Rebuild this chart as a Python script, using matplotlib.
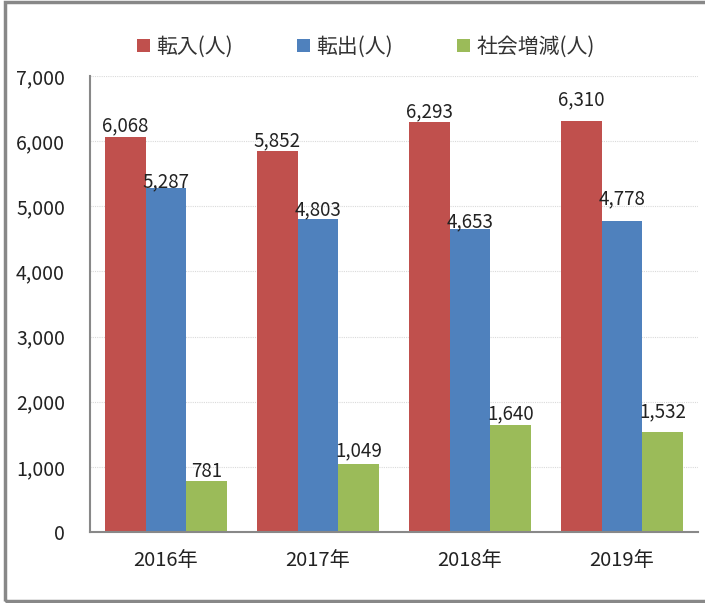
import matplotlib
matplotlib.use("Agg")
import matplotlib.pyplot as plt
import numpy as np
from matplotlib.patches import Rectangle

plt.rcParams['font.family'] = ['Noto Sans CJK JP', 'DejaVu Sans']

categories = ["2016年", "2017年", "2018年", "2019年"]
series_names = ["転入(人)", "転出(人)", "社会増減(人)"]
tennyu = [6068, 5852, 6293, 6310]
tenshutsu = [5287, 4803, 4653, 4778]
shakai = [781, 1049, 1640, 1532]
colors = ["#C0504D", "#4F81BD", "#9BBB59"]

# label baseline offsets above bar top (pixels), as placed in the original
label_offsets_px = [[5, 4, 5, 16],
                    [0, 4, 2, 16],
                    [4, 7, 6, 15]]

fig = plt.figure(figsize=(7.05, 6.03), dpi=100)
ax = fig.add_axes([90/705, 71/603, 608/705, 456/603])

x = np.arange(len(categories))
w = 0.8 / 3
for i, (vals, name, c) in enumerate(zip([tennyu, tenshutsu, shakai], series_names, colors)):
    pos = x + (i - 1) * w
    ax.bar(pos, vals, width=w, color=c, label=name, zorder=3)
    for j, (xp, v) in enumerate(zip(pos, vals)):
        ax.annotate(f"{v:,}", (xp, v), xytext=(0, label_offsets_px[i][j] * 0.72),
                    textcoords='offset points', ha='center', va='baseline',
                    fontsize=13.5, color='#222222', zorder=4)

ax.set_xlim(-0.5, len(categories) - 0.5)
ax.set_ylim(0, 7000)
ax.set_yticks(np.arange(0, 7001, 1000))
ax.set_yticklabels([f"{int(t):,}" for t in np.arange(0, 7001, 1000)])
ax.set_xticks(x)
ax.set_xticklabels(categories)
ax.tick_params(axis='both', length=0, labelsize=14, colors='#222222')
ax.tick_params(axis='y', pad=18)
ax.tick_params(axis='x', pad=13, labelsize=14.5)
ax.yaxis.grid(True, color='#DADADA', linestyle=(0, (1, 1)), linewidth=0.8, zorder=0)
for s in ['top', 'right']:
    ax.spines[s].set_visible(False)
for s in ['left', 'bottom']:
    ax.spines[s].set_color('#888888')
    ax.spines[s].set_linewidth(1.5)
    ax.spines[s].set_zorder(5)

leg = fig.legend(loc='center', bbox_to_anchor=(366/705, 1 - 47/603), ncol=3, frameon=False,
                 fontsize=15, handlelength=0.6, handleheight=0.6, handletextpad=0.3,
                 columnspacing=3.1, labelcolor='#333333')

fig.patches.append(Rectangle((5/705, 2/603), 1.0, 599/603, transform=fig.transFigure,
                             fill=False, edgecolor='#888888', linewidth=2.5))

fig.savefig("out.png", dpi=100)
